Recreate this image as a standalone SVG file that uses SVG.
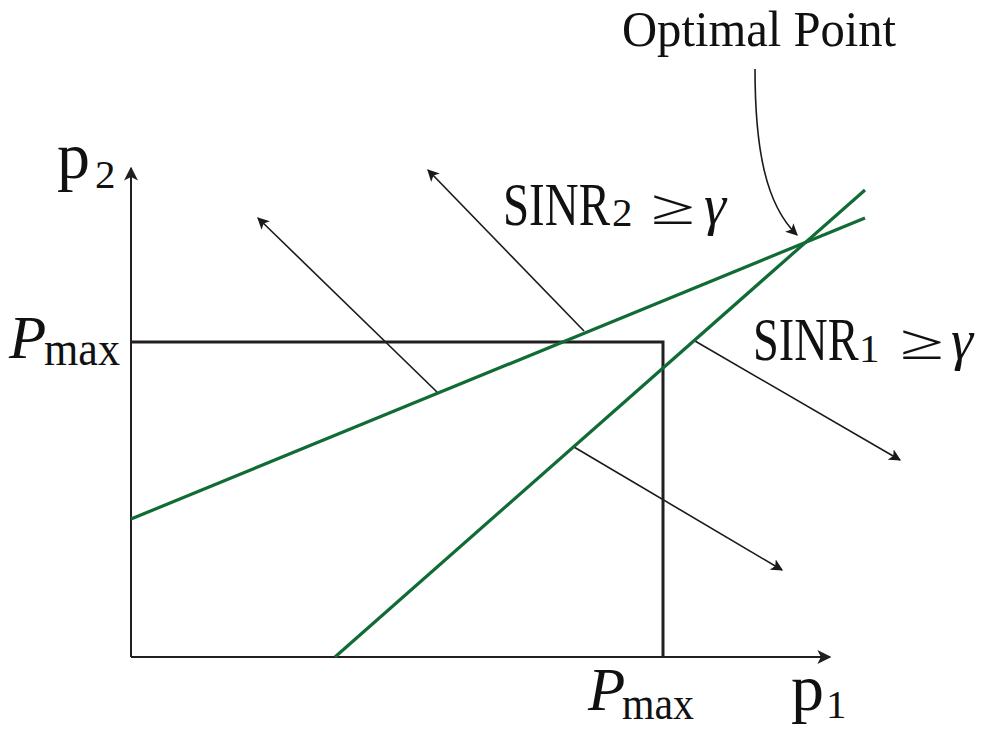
<svg xmlns="http://www.w3.org/2000/svg" width="985" height="731" viewBox="0 0 985 731">
<style>
text{font-family:"Liberation Serif","DejaVu Serif",serif;fill:#111}
.ax{stroke:#231f20;stroke-width:2;fill:none}
.box{stroke:#231f20;stroke-width:3;fill:none}
.g{stroke:#116b35;stroke-width:3.2;fill:none}
.ar{stroke:#1a1a1a;stroke-width:1.6;fill:none;marker-end:url(#ah)}
.it{font-style:italic}
</style>
<defs>
<marker id="ah" viewBox="0 0 10 10" refX="9" refY="5" markerWidth="12" markerHeight="12" markerUnits="userSpaceOnUse" orient="auto">
<path d="M0,0 L10,5 L0,10 L2.5,5 Z" fill="#1a1a1a"/>
</marker>
<marker id="ahb" viewBox="0 0 10 10" refX="9" refY="5" markerWidth="14" markerHeight="14" markerUnits="userSpaceOnUse" orient="auto">
<path d="M0,0 L10,5 L0,10 L2.5,5 Z" fill="#231f20"/>
</marker>
</defs>
<g id="connectors">
<line class="ax" x1="131" y1="657" x2="131" y2="168" style="marker-end:url(#ahb)"/>
<line class="ax" x1="131" y1="657" x2="830" y2="657" style="marker-end:url(#ahb)"/>
<line class="ar" x1="437" y1="392" x2="258" y2="218"/>
<line class="ar" x1="584" y1="331" x2="428" y2="170"/>
<line class="ar" x1="695" y1="341" x2="900" y2="460"/>
<line class="ar" x1="574" y1="447" x2="782" y2="570"/>
<path class="ar" d="M755,69 C755,150 766,205 797,235"/>
</g>
<g id="box">
<polyline class="box" points="131,342 663,342 663,657"/>
</g>
<g id="sinr2-line">
<line class="g" x1="131" y1="519" x2="865" y2="218"/>
</g>
<g id="sinr1-line">
<line class="g" x1="335" y1="657" x2="865" y2="190"/>
</g>
<g id="label-optimal">
<text x="622" y="46" font-size="51" textLength="274" lengthAdjust="spacingAndGlyphs">Optimal Point</text>
</g>
<g id="label-p2">
<text x="57" y="178" font-size="66">p</text>
<text x="95" y="188" font-size="41">2</text>
</g>
<g id="label-pmax-y">
<text x="9" y="358" font-size="61" class="it">P</text>
<text x="44" y="365" font-size="48" textLength="76" lengthAdjust="spacingAndGlyphs">max</text>
</g>
<g id="label-pmax-x">
<text x="588" y="710" font-size="61" class="it">P</text>
<text x="622" y="719" font-size="46" textLength="72" lengthAdjust="spacingAndGlyphs">max</text>
</g>
<g id="label-p1">
<text x="791" y="710" font-size="66">p</text>
<text x="826" y="718" font-size="41">1</text>
</g>
<g id="label-sinr2">
<text transform="matrix(0.77,0,0,1,503,225)" font-size="61">SINR</text>
<text x="612" y="226" font-size="41">2</text>
<text x="651" y="224" font-size="50" textLength="44" lengthAdjust="spacingAndGlyphs">≥</text>
<text x="704" y="224" font-size="56" class="it">γ</text>
</g>
<g id="label-sinr1">
<text transform="matrix(0.76,0,0,1,753,360)" font-size="61">SINR</text>
<text x="859" y="362" font-size="41">1</text>
<text x="900" y="359" font-size="50" textLength="44" lengthAdjust="spacingAndGlyphs">≥</text>
<text x="951" y="359" font-size="56" class="it">γ</text>
</g>
</svg>
